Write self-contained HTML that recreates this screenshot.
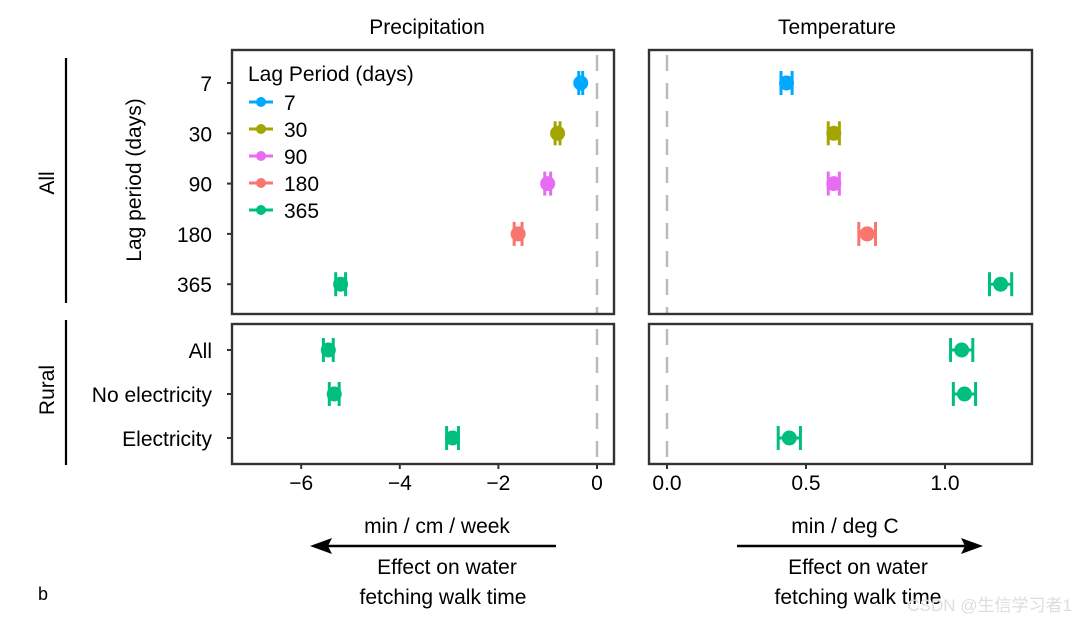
<!DOCTYPE html>
<html><head><meta charset="utf-8"><style>
body{margin:0;background:#fff;}
svg text{font-family:"Liberation Sans",Arial,sans-serif;fill:#000;}
</style></head><body>
<svg id="chart" width="1078" height="622" xmlns="http://www.w3.org/2000/svg"></svg>
<script>
const lagCats=["7","30","90","180","365"];
const lagColors=["#00A9FF","#A3A500","#E76BF3","#F8766D","#00BF7D"];
const ruralCats=["All","No electricity","Electricity"];
const precipLag=[-0.33,-0.8,-1.0,-1.6,-5.2];
const precipLagLo=[-0.37,-0.85,-1.06,-1.68,-5.3];
const precipLagHi=[-0.29,-0.75,-0.94,-1.52,-5.1];
const precipRural=[-5.45,-5.33,-2.93];
const precipRuralLo=[-5.55,-5.43,-3.05];
const precipRuralHi=[-5.35,-5.23,-2.81];
const tempLag=[0.43,0.6,0.6,0.72,1.2];
const tempLagLo=[0.41,0.58,0.58,0.69,1.16];
const tempLagHi=[0.45,0.62,0.62,0.75,1.24];
const tempRural=[1.06,1.07,0.44];
const tempRuralLo=[1.02,1.03,0.40];
const tempRuralHi=[1.10,1.11,0.48];
const precipTicks=[-6,-4,-2,0];
const precipTickLabels=["−6","−4","−2","0"];
const tempTicks=[0,0.5,1.0];
const tempTickLabels=["0.0","0.5","1.0"];

const svg=document.getElementById('chart');
const NS="http://www.w3.org/2000/svg";
function el(tag,attrs,parent){const e=document.createElementNS(NS,tag);for(const k in attrs)e.setAttribute(k,attrs[k]);(parent||svg).appendChild(e);return e;}
function txt(s,x,y,size,anchor,name,extra){const t=el('text',Object.assign({x:x,y:y,'font-size':size,'text-anchor':anchor||'start'},extra||{}));t.textContent=s;


return t;}
const xP=v=>597+v*49.3;
const xT=v=>667+v*278;
const yLag=i=>83+i*50.3;
const yRur=i=>350+i*44;
const L={x0:232,x1:614}, R={x0:649,x1:1032};
const TOP={y0:50,y1:314}, BOT={y0:324,y1:464};
const FS=21;

// zero lines
[[xP(0),L],[xT(0),R]].forEach(([x,p],k)=>{[TOP,BOT].forEach(b=>{const l=el('line',{x1:x,x2:x,y1:b.y0+1,y2:b.y1-1,stroke:'#bbb','stroke-width':2.5,'stroke-dasharray':'16,12','stroke-dashoffset':'-4'});

});});

function panel(p,b,name){const r=el('rect',{x:p.x0,y:b.y0,width:p.x1-p.x0,height:b.y1-b.y0,fill:'none',stroke:'#333','stroke-width':2.4});

}
panel(L,TOP,'precip-all-panel');panel(R,TOP,'temp-all-panel');panel(L,BOT,'precip-rural-panel');panel(R,BOT,'temp-rural-panel');

function mark(x,lo,hi,y,c,name){const g=el('g',{});


el('line',{x1:lo,x2:hi,y1:y,y2:y,stroke:c,'stroke-width':3},g);
el('line',{x1:lo,x2:lo,y1:y-12,y2:y+12,stroke:c,'stroke-width':3},g);
el('line',{x1:hi,x2:hi,y1:y-12,y2:y+12,stroke:c,'stroke-width':3},g);
el('circle',{cx:x,cy:y,r:7.5,fill:c},g);}
lagCats.forEach((c,i)=>{mark(xP(precipLag[i]),xP(precipLagLo[i]),xP(precipLagHi[i]),yLag(i),lagColors[i],'precip-point-'+c);
mark(xT(tempLag[i]),xT(tempLagLo[i]),xT(tempLagHi[i]),yLag(i),lagColors[i],'temp-point-'+c);});
ruralCats.forEach((c,i)=>{mark(xP(precipRural[i]),xP(precipRuralLo[i]),xP(precipRuralHi[i]),yRur(i),'#00BF7D','precip-rural-point');
mark(xT(tempRural[i]),xT(tempRuralLo[i]),xT(tempRuralHi[i]),yRur(i),'#00BF7D','temp-rural-point');});

// y ticks
lagCats.forEach((c,i)=>{txt(c,212,yLag(i)+8,FS,'end','y-tick-label');el('line',{x1:227,x2:232,y1:yLag(i),y2:yLag(i),stroke:'#333','stroke-width':2});});
ruralCats.forEach((c,i)=>{txt(c,212,yRur(i)+8,FS,'end','y-tick-label');el('line',{x1:227,x2:232,y1:yRur(i),y2:yRur(i),stroke:'#333','stroke-width':2});});
// x ticks
precipTicks.forEach((v,i)=>{el('line',{x1:xP(v),x2:xP(v),y1:464,y2:469,stroke:'#333','stroke-width':2});txt(precipTickLabels[i],xP(v),490,FS,'middle','x-tick-label');});
tempTicks.forEach((v,i)=>{el('line',{x1:xT(v),x2:xT(v),y1:464,y2:469,stroke:'#333','stroke-width':2});txt(tempTickLabels[i],xT(v),490,FS,'middle','x-tick-label');});

txt('Precipitation',427,34,FS,'middle','precip-title');
txt('Temperature',837,34,FS,'middle','temp-title');
txt('Lag period (days)',141,180,FS,'middle','y-axis-title',{transform:'rotate(-90 141 180)'});
txt('All',54,183,FS,'middle','group-all-label',{transform:'rotate(-90 54 183)'});
txt('Rural',54,390,FS,'middle','group-rural-label',{transform:'rotate(-90 54 390)'});
el('line',{x1:66,x2:66,y1:58,y2:303,stroke:'#000','stroke-width':2.2});
el('line',{x1:66,x2:66,y1:320,y2:465,stroke:'#000','stroke-width':2.2});

// legend
txt('Lag Period (days)',248,81,FS,'start','legend-title');
lagCats.forEach((c,i)=>{const y=102+i*27;const g=el('g',{});


el('line',{x1:249,x2:273,y1:y,y2:y,stroke:lagColors[i],'stroke-width':3},g);
el('circle',{cx:261,cy:y,r:5,fill:lagColors[i]},g);
txt(c,284,y+8,FS,'start','legend-label');});

txt('min / cm / week',437,533,FS,'middle','precip-unit');
el('line',{x1:556,x2:322,y1:546,y2:546,stroke:'#000','stroke-width':2.5});
el('polygon',{points:'310,546 332,538 328,546 332,554',fill:'#000'});
txt('Effect on water',447,574,FS,'middle','precip-effect-1');
txt('fetching walk time',443,604,FS,'middle','precip-effect-2');
txt('min / deg C',845,533,FS,'middle','temp-unit');
el('line',{x1:737,x2:970,y1:546,y2:546,stroke:'#000','stroke-width':2.5});
el('polygon',{points:'983,546 961,538 965,546 961,554',fill:'#000'});
txt('Effect on water',858,574,FS,'middle','temp-effect-1');
txt('fetching walk time',858,604,FS,'middle','temp-effect-2');
txt('b',38,600,18,'start','panel-label');
txt('CSDN @生信学习者1',1072,611,17,'end','watermark',{style:'fill:#ddd;font-family:"Liberation Sans","Noto Sans CJK SC",sans-serif'});
</script>
</body></html>
